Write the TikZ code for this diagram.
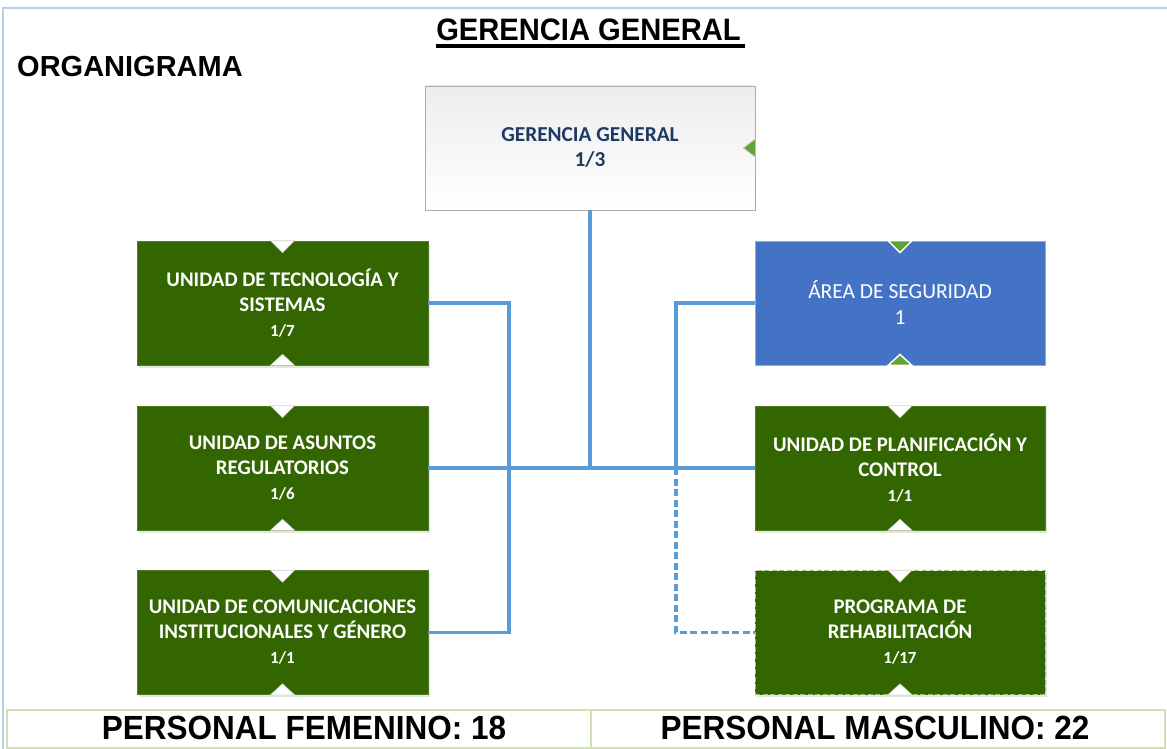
\documentclass[tikz,border=0pt]{standalone}
\usepackage{fontspec}
\setmainfont{Carlito}
\newfontfamily\arialf{Liberation Sans}
\newfontfamily\arialn[FakeStretch=0.94]{Liberation Sans}
\usetikzlibrary{calc,shadows}
\definecolor{boxgreen}{HTML}{336600}
\definecolor{notchgreen}{HTML}{62A236}
\definecolor{areablue}{HTML}{4472C4}
\definecolor{navytext}{HTML}{1F3864}
\definecolor{connblue}{HTML}{5B9BD5}
\definecolor{framecol}{HTML}{B9CDE5}
\definecolor{tablecol}{HTML}{D0E0B0}
\tikzset{
  unitbox/.style={rectangle, minimum width=291pt, minimum height=124pt, inner sep=0pt,
    align=center},
  greenbox/.style={unitbox, fill=boxgreen, draw=boxgreen!85!white, line width=0.6pt,
    text=white, font=\bfseries\fontsize{20.8}{25}\selectfont,
    drop shadow={opacity=0.25, shadow xshift=1.5pt, shadow yshift=-2.5pt, fill=boxgreen!60!white}},
  dashbox/.style={greenbox, draw=boxgreen!45!white, dash pattern=on 5pt off 2.5pt},
  areabox/.style={unitbox, minimum width=290pt, fill=areablue, draw=areablue!60!white, line width=0.8pt,
    text=white, font=\fontsize{21.5}{26}\selectfont},
  topbox/.style={unitbox, minimum width=330pt, top color=gray!14, bottom color=white,
    draw=gray!65, line width=0.9pt, text=navytext, font=\bfseries\fontsize{21.3}{25}\selectfont},
  conn/.style={draw=connblue, line width=3.1pt},
  dashconn/.style={conn, dash pattern=on 7pt off 3.5pt},
  whitenotch/.style={fill=white, draw=gray!35, line width=0.6pt},
  greennotch/.style={fill=notchgreen, draw=white, line width=1.4pt},
  plaintext/.style={inner sep=0pt, text=black},
}
\newcommand\cntfont{\fontsize{17}{25}\selectfont}
\begin{document}
\begin{tikzpicture}[x=1pt,y=-1pt]
\useasboundingbox (0,0) rectangle (1167,749);
% outer frame
\draw[framecol, line width=1.3pt] (3,749) -- (3,8) -- (1167,8);

% titles
\node[plaintext, anchor=base] (title) at (588.5,40.7)
  {\arialn\bfseries\fontsize{31}{31}\selectfont GERENCIA GENERAL};
\draw[line width=3.8pt] ($(title.base west)+(0,5)$) -- ($(title.base east)+(4,5)$);
\node[plaintext, anchor=base west] (org) at (17,77)
  {\arialf\bfseries\fontsize{29}{29}\selectfont ORGANIGRAMA};

% nodes
\node[topbox] (gg) at (590,148) {GERENCIA GENERAL\\1/3};

\node[greenbox] (l1) at (282.5,303) {UNIDAD DE TECNOLOGÍA Y\\SISTEMAS\\{\cntfont 1/7}};
\node[greenbox] (l2) at (282.5,468) {UNIDAD DE ASUNTOS\\REGULATORIOS\\{\cntfont 1/6}};
\node[greenbox] (l3) at (282.5,632.5) {UNIDAD DE COMUNICACIONES\\INSTITUCIONALES Y GÉNERO\\{\cntfont 1/1}};

\node[areabox] (r1) at (900,303) {ÁREA DE SEGURIDAD\\1};
\node[greenbox, minimum width=290pt] (r2) at (900,468) {UNIDAD DE PLANIFICACIÓN Y\\CONTROL\\{\cntfont 1/1}};
\node[dashbox, minimum width=290pt] (r3) at (900,632.5) {PROGRAMA DE\\REHABILITACIÓN\\{\cntfont 1/17}};

% notches
\foreach \n in {l1,l2,l3,r2,r3}{
  \draw[whitenotch] ($(\n.north)+(-12,0)$) -- ($(\n.north)+(12,0)$) -- ($(\n.north)+(0,12)$) -- cycle;
  \draw[whitenotch] ($(\n.south)+(-12,0)$) -- ($(\n.south)+(12,0)$) -- ($(\n.south)+(0,-11)$) -- cycle;
}
\draw[greennotch] ($(r1.north)+(-12,0)$) -- ($(r1.north)+(12,0)$) -- ($(r1.north)+(0,12)$) -- cycle;
\draw[greennotch] ($(r1.south)+(-12,0)$) -- ($(r1.south)+(12,0)$) -- ($(r1.south)+(0,-11)$) -- cycle;
\draw[fill=notchgreen, draw=gray!50, line width=0.8pt] ($(gg.east)+(0,-9)$) -- ($(gg.east)+(0,9)$) -- ($(gg.east)+(-12,0)$) -- cycle;

% connectors
\coordinate (lbus) at (509,468);
\coordinate (rbus) at (676,468);
\draw[conn] (gg.south) -- (gg.south |- l2.east);
\draw[conn] (l2.east) -- (r2.west);
\draw[conn] (l1.east) -| (lbus) |- (l3.east);
\draw[conn] (r1.west) -| (rbus);
\draw[dashconn] (rbus) |- (r3.west);

% bottom table
\draw[tablecol, line width=1.3pt] (7,710) rectangle (1165,748);
\draw[tablecol, line width=1.3pt] (591,710) -- (591,748);
\node[plaintext, anchor=base] (fem) at (304,739.5)
  {\arialn\bfseries\fontsize{33.5}{33.5}\selectfont PERSONAL FEMENINO: 18};
\node[plaintext, anchor=base] (masc) at (875,739.5)
  {\arialn\bfseries\fontsize{33.5}{33.5}\selectfont PERSONAL MASCULINO: 22};
\end{tikzpicture}
\end{document}
